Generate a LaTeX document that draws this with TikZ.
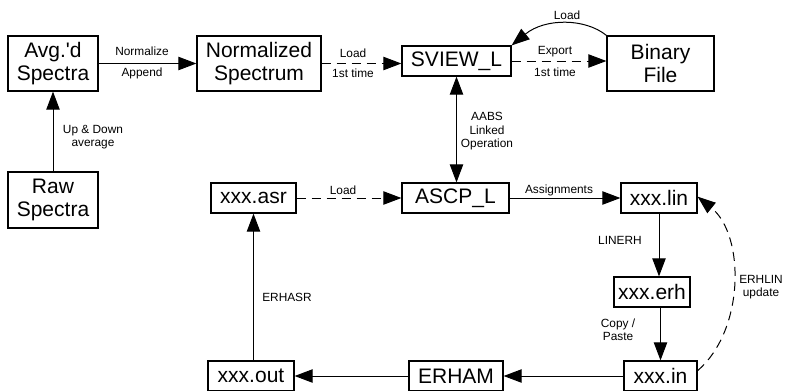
\documentclass[tikz,border=0pt]{standalone}
\usepackage{fontspec}
\setmainfont{Liberation Sans}
\usetikzlibrary{arrows.meta}
\tikzset{
  box/.style={draw, line width=0.9pt, inner sep=0pt, align=center,
    font=\fontsize{15.75}{17.5}\selectfont, minimum height=22.5pt},
  tall/.style={minimum height=41.25pt},
  lbl/.style={font=\fontsize{8.9}{10.1}\selectfont, align=center, inner sep=0pt},
  arr/.style={line width=0.75pt, -{Triangle[length=13.5pt,width=10pt]}},
  dsh/.style={dash pattern=on 6.75pt off 4.5pt}
}
\begin{document}
\begin{tikzpicture}[x=0.75pt,y=-0.75pt]
\clip (0,0) rectangle (785,390);
\useasboundingbox (0,0) rectangle (785,390);
% boxes
\node[box,tall,minimum width=67.5pt] (avg) at (53,63.5) {Avg.\textquotesingle d\\Spectra};
\node[box,tall,minimum width=93pt] (norm) at (259,63.5) {Normalized\\Spectrum};
\node[box,minimum width=81.75pt] (sview) at (456.5,61) {SVIEW\_L};
\node[box,tall,minimum width=80.25pt] (binary) at (660.5,63.5) {Binary\\File};
\node[box,tall,minimum height=42pt,minimum width=67.5pt] (raw) at (53,200) {Raw\\Spectra};
\node[box,minimum width=63.75pt] (asr) at (253.5,198) {xxx.asr};
\node[box,minimum width=80.25pt] (ascp) at (455.5,198) {ASCP\_L};
\node[box,minimum width=57pt] (lin) at (659,198) {xxx.lin};
\node[box,minimum width=57pt] (erh) at (652,292) {xxx.erh};
\node[box,minimum width=54.75pt] (in) at (660.5,376) {xxx.in};
\node[box,minimum width=70.5pt] (erham) at (456,376) {ERHAM};
\node[box,minimum width=64.5pt] (out) at (251,376) {xxx.out};
% connectors
\draw[arr] (raw) -- (avg);
\node[lbl] (lud) at (93,137) {Up \& Down\\average};
\draw[arr] (avg.east) -- (norm.west);
\node[lbl] (lnorm) at (142,51) {Normalize};
\node[lbl] (lapp) at (142,73) {Append};
\draw[arr,dsh] (norm.east) -- (norm.east -| sview.west);
\node[lbl] (lload1) at (353,53) {Load};
\node[lbl] (lfirst1) at (353,73) {1st time};
\draw[arr,dsh] (sview.east) -- (sview.east -| binary.west);
\node[lbl] (lexp) at (555,52) {Export};
\node[lbl] (lfirst2) at (555,72) {1st time};
\draw[arr] (binary.north west) .. controls (585,18) and (545,18) .. (sview.north east);
\node[lbl] (lload2) at (567,15) {Load};
\draw[arr,{Triangle[length=13.5pt,width=10pt]}-{Triangle[length=13.5pt,width=10pt]}] (sview.south) -- (sview.south |- ascp.north);
\node[lbl] (laabs) at (487,131.5) {AABS\\Linked\\Operation};
\draw[arr,dsh] (asr.east) -- (ascp.west);
\node[lbl] (lload3) at (343,190) {Load};
\draw[arr] (ascp.east) -- (lin.west);
\node[lbl] (lassign) at (559,190) {Assignments};
\draw[arr] (lin.south) -- (lin.south |- erh.north);
\node[lbl] (lliner) at (620,240) {LINERH};
\draw[arr] (in.north |- erh.south) -- (in.north);
\node[lbl] (lcopy) at (618,330) {Copy /\\Paste};
\draw[arr] (in.west) -- (erham.east);
\draw[arr] (erham.west) -- (out.east);
\draw[arr] (asr.south |- out.north) -- (asr.south);
\node[lbl,anchor=west] (lerhasr) at (262,297) {ERHASR};
\draw[arr,dsh] ([yshift=4pt]in.east) .. controls (745,330) and (745,235) .. ([yshift=1pt]lin.east);
\node[lbl] (lerhlin) at (761,287) {ERHLIN\\update};
\end{tikzpicture}
\end{document}
